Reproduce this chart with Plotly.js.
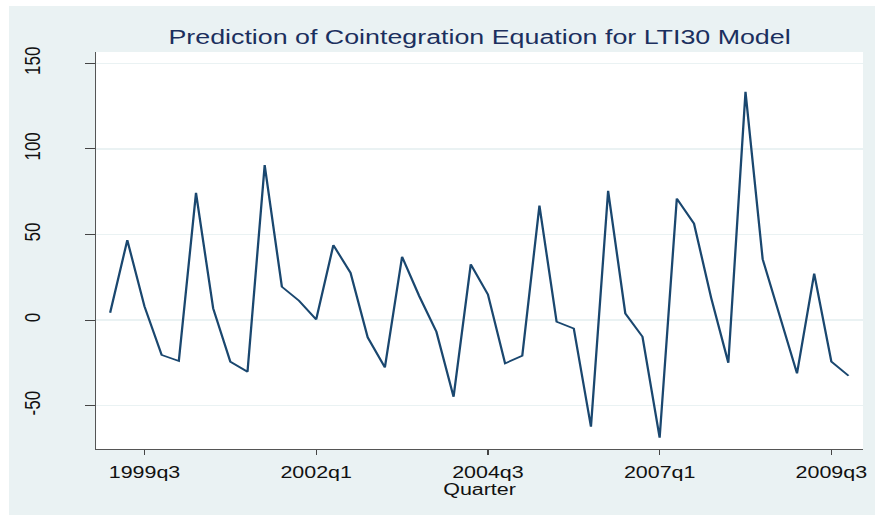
<!DOCTYPE html>
<html>
<head>
<meta charset="utf-8">
<script src="https://cdn.plot.ly/plotly-3.0.1.min.js"></script>
<style>
  html, body { margin: 0; padding: 0; background: #ffffff; overflow: hidden; width: 875px; height: 515px; }
  #chart { position: absolute; left: 9px; top: 6px; width: 646px; height: 509px;
           transform: scaleX(1.3406); transform-origin: 0 0; }
</style>
</head>
<body>
<div id="chart"></div>
<script>
const quarters = [
  "1999q1","1999q2","1999q3","1999q4",
  "2000q1","2000q2","2000q3","2000q4",
  "2001q1","2001q2","2001q3","2001q4",
  "2002q1","2002q2","2002q3","2002q4",
  "2003q1","2003q2","2003q3","2003q4",
  "2004q1","2004q2","2004q3","2004q4",
  "2005q1","2005q2","2005q3","2005q4",
  "2006q1","2006q2","2006q3","2006q4",
  "2007q1","2007q2","2007q3","2007q4",
  "2008q1","2008q2","2008q3","2008q4",
  "2009q1","2009q2","2009q3","2009q4"
];
const prediction = [
  4.3, 46.7, 8, -20.4, -23.9, 74.3, 6.8, -24.3, -30.2, 90.5,
  19.5, 11.3, 0.4, 43.8, 27.6, -10.1, -27.6, 37.0, 14, -6.8,
  -44.8, 32.5, 15.0, -25.3, -20.8, 66.9, -1.0, -4.9, -62.3, 75.5,
  3.9, -9.7, -68.7, 71.0, 56.4, 13, -24.9, 133.3, 35.6, 2,
  -31.1, 27.2, -24.3, -32.5
];
const xTickLabels = ["1999q3","2002q1","2004q3","2007q1","2009q3"];
const yTickValues = [-50, 0, 50, 100, 150];

const trace = {
  x: quarters,
  y: prediction,
  type: "scatter",
  mode: "lines",
  line: { color: "#1A476F", width: 1.7 },
  hoverinfo: "skip"
};

const layout = {
  width: 646,
  height: 509,
  paper_bgcolor: "#EAF2F3",
  plot_bgcolor: "#FFFFFF",
  margin: { l: 65, r: 9, t: 46, b: 66 },
  showlegend: false,
  font: { family: "Liberation Sans, Arial, sans-serif", color: "#000000" },
  title: {
    text: "Prediction of Cointegration Equation for LTI30 Model",
    font: { family: "Liberation Sans, Arial, sans-serif", size: 20, color: "#1B2F5E" },
    xref: "paper", x: 0.5, xanchor: "center",
    yref: "container", y: 0.94, yanchor: "middle"
  },
  xaxis: {
    type: "category",
    range: [-0.815, 43.84],
    tickmode: "array",
    tickvals: xTickLabels,
    ticktext: xTickLabels,
    ticks: "outside",
    ticklen: 5,
    tickwidth: 1,
    tickcolor: "#444444",
    showline: true,
    linecolor: "#555555",
    linewidth: 1,
    showgrid: false,
    zeroline: false,
    tickfont: { size: 16, color: "#111111" },
    ticklabelstandoff: 4,
    title: { text: "Quarter", font: { size: 16, color: "#111111" }, standoff: 0 }
  },
  yaxis: {
    range: [-75.3, 156.6],
    tickmode: "array",
    tickvals: yTickValues,
    ticktext: yTickValues.map(String),
    tickangle: -90,
    ticks: "outside",
    ticklen: 7,
    tickwidth: 1,
    tickcolor: "#444444",
    showline: true,
    linecolor: "#555555",
    linewidth: 1,
    showgrid: true,
    gridcolor: "#EAF2F3",
    gridwidth: 1.2,
    zeroline: false,
    tickfont: { size: 17, color: "#111111" },
    ticklabelstandoff: 27
  }
};

Plotly.newPlot("chart", [trace], layout, { displayModeBar: false, staticPlot: true });
</script>
</body>
</html>
